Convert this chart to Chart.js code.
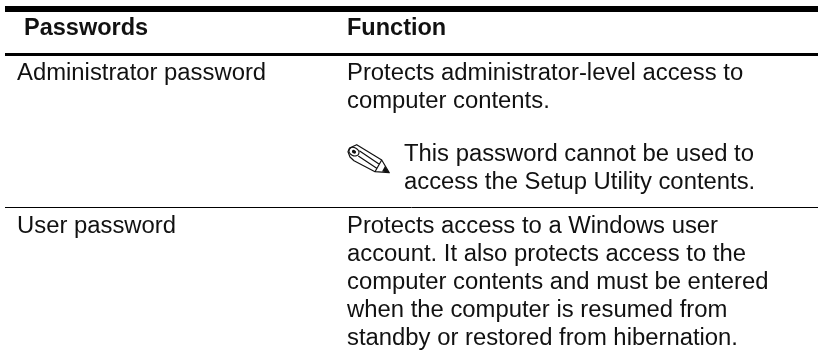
<!DOCTYPE html>
<html lang="en">
<head>
    <meta charset="UTF-8">
    <title>Passwords</title>
    <script src="https://cdn.jsdelivr.net/npm/chart.js"></script>
    <style>
        html, body { margin: 0; background: #fff; }
        #table-wrap { width: 818px; height: 362px; }
    </style>
</head>
<body>
    <div id="table-wrap"><canvas id="password-table"></canvas></div>

    <script>
        // table content
        const columnHeaders = ['Passwords', 'Function'];
        const passwordNames = ['Administrator password', 'User password'];
        const adminFunction = ['Protects administrator-level access to', 'computer contents.'];
        const noteLines = ['This password cannot be used to', 'access the Setup Utility contents.'];
        const userFunction = [
            'Protects access to a Windows user',
            'account. It also protects access to the',
            'computer contents and must be entered',
            'when the computer is resumed from',
            'standby or restored from hibernation.'
        ];

        // layout, in the pixel-sized units of the hidden axes
        const headerX = [24, 347];
        const headerBaseline = 35;
        const nameX = 17;
        const nameBaselines = [80, 233];
        const functionX = 347;
        const adminBaselines = [80, 108];
        const noteX = 404;
        const noteBaselines = [161, 189];
        const userBaselines = [233, 261, 289, 317, 345];
        const rules = [
            { y: 9, width: 6 },
            { y: 54.5, width: 3 },
            { y: 207.5, width: 1 }
        ];
        const ruleStart = 5;
        const ruleEnd = 818;

        const bodyFont = '23.85px "Liberation Sans", Arial, sans-serif';
        const headFont = 'bold 23.5px "Liberation Sans", Arial, sans-serif';
        const textColor = '#111';

        function drawPencil(ctx, x, y) {
            // note icon, about 43x29
            ctx.save();
            ctx.translate(x, y);
            ctx.lineWidth = 1.2;
            ctx.strokeStyle = '#111';
            ctx.fillStyle = '#111';
            ctx.lineJoin = 'round';
            ctx.beginPath();
            ctx.moveTo(9.7, 0.7);
            ctx.lineTo(2.5, 4);
            ctx.lineTo(1, 7.7);
            ctx.lineTo(3, 13);
            ctx.lineTo(7, 16.7);
            ctx.lineTo(28, 27.7);
            ctx.lineTo(42.3, 28.7);
            ctx.lineTo(34.7, 16);
            ctx.closePath();
            // body edges running to the tip
            ctx.moveTo(12.3, 6.7);
            ctx.lineTo(32.3, 20.3);
            ctx.moveTo(11.3, 12);
            ctx.lineTo(29.7, 24.3);
            // shoulder of the point
            ctx.moveTo(34.7, 16);
            ctx.lineTo(28, 27.7);
            ctx.stroke();
            // eraser end
            ctx.beginPath();
            ctx.ellipse(7, 7.7, 5.2, 4, 0.5, 0, Math.PI * 2);
            ctx.stroke();
            ctx.beginPath();
            ctx.ellipse(7, 7.7, 2.2, 1.7, 0.5, 0, Math.PI * 2);
            ctx.fill();
            // lead
            ctx.beginPath();
            ctx.moveTo(42.3, 28.7);
            ctx.lineTo(35, 27.5);
            ctx.lineTo(38, 22);
            ctx.closePath();
            ctx.fill();
            ctx.restore();
        }

        const tableText = {
            id: 'tableText',
            afterDatasetsDraw(chart) {
                const { ctx, scales: { x, y } } = chart;
                const put = (text, px, base) => {
                    ctx.fillText(text, x.getPixelForValue(px), y.getPixelForValue(base));
                };
                ctx.save();
                ctx.fillStyle = textColor;
                ctx.textBaseline = 'alphabetic';
                ctx.font = headFont;
                columnHeaders.forEach((t, i) => put(t, headerX[i], headerBaseline));
                ctx.font = bodyFont;
                passwordNames.forEach((t, i) => put(t, nameX, nameBaselines[i]));
                adminFunction.forEach((t, i) => put(t, functionX, adminBaselines[i]));
                noteLines.forEach((t, i) => put(t, noteX, noteBaselines[i]));
                userFunction.forEach((t, i) => put(t, functionX, userBaselines[i]));
                ctx.restore();
                drawPencil(ctx, x.getPixelForValue(347), y.getPixelForValue(144));
            }
        };

        new Chart(document.getElementById('password-table'), {
            type: 'scatter',
            data: {
                datasets: rules.map(r => ({
                    data: [{ x: ruleStart, y: r.y }, { x: ruleEnd, y: r.y }],
                    showLine: true,
                    borderColor: '#000',
                    borderWidth: r.width,
                    pointRadius: 0
                }))
            },
            options: {
                responsive: true,
                maintainAspectRatio: false,
                animation: false,
                layout: { padding: 0 },
                plugins: { legend: { display: false }, tooltip: { enabled: false } },
                scales: {
                    x: { type: 'linear', display: false, min: 0, max: 818 },
                    y: { type: 'linear', display: false, min: 0, max: 362, reverse: true }
                }
            },
            plugins: [tableText]
        });
    </script>
</body>
</html>
